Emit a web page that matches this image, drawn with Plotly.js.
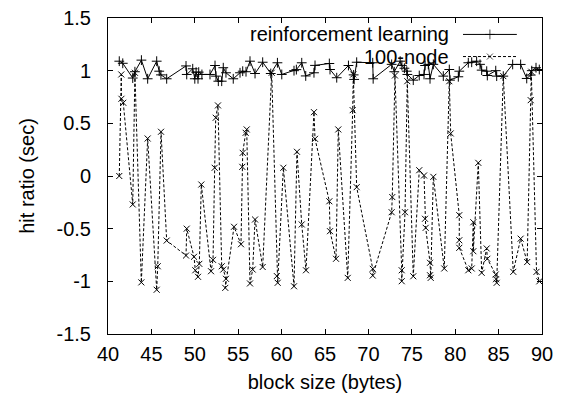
<!DOCTYPE html>
<html>
<head>
<meta charset="utf-8">
<script src="https://cdn.plot.ly/plotly-3.0.1.min.js"></script>
<style>html,body{margin:0;padding:0;background:#fff;}#chart{width:564px;height:399px;}</style>
</head>
<body>
<div id="chart"></div>
<script>
// ---- data ----
var rlX = [41.3,41.7,42.85,43.1,43.85,44.57,45.61,45.9,46.1,46.76,48.99,49.07,49.76,50.0,50.15,50.37,50.45,50.82,51.75,52.33,52.44,52.71,53.1,53.28,53.59,54.43,55.21,55.52,55.9,56.36,56.94,57.82,58.75,59.52,60.02,61.43,61.7,62.32,62.78,63.73,63.85,65.5,65.58,66.35,67.7,68.3,68.36,68.65,70.5,70.55,72.68,72.98,73.66,73.86,74.15,74.42,74.49,75.17,75.86,76.41,76.53,76.9,77.1,77.48,78.63,79.32,79.4,80.36,80.47,81.51,81.9,82.47,82.86,83.05,83.63,83.7,84.67,84.78,85.54,86.62,87.54,88.24,88.7,88.82,89.31,89.69];
var rlY = [1.09,1.07,0.93,0.99,1.10,0.923,1.09,0.995,0.96,0.923,1.045,0.964,1.018,0.923,0.986,0.923,0.986,0.964,0.964,1.049,0.948,0.90,0.90,1.028,0.98,0.923,0.98,0.995,0.99,1.09,0.973,1.08,0.973,1.075,0.964,1.0,1.01,1.075,0.95,0.98,1.05,1.068,1.011,0.933,1.049,0.96,0.917,1.08,1.075,0.923,1.06,0.99,1.09,1.05,1.023,0.995,0.964,0.91,0.954,0.964,1.049,1.06,0.923,1.06,0.948,1.011,0.91,0.942,0.995,1.075,1.08,1.09,1.06,1.005,0.995,0.954,1.0,0.948,0.948,1.059,1.059,0.926,0.958,1.0,1.028,1.011];

var nodeX = [41.3,41.53,41.55,41.76,42.85,43.1,43.84,44.57,45.61,45.73,46.11,46.76,48.99,49.07,49.91,50.06,50.37,50.52,50.75,51.87,52.1,52.29,52.41,52.67,53.1,53.28,53.59,53.51,54.52,55.32,55.47,55.52,55.86,55.98,56.36,56.67,56.94,57.82,58.86,59.45,59.55,60.2,61.43,61.77,62.32,62.81,63.73,63.85,65.5,65.58,66.27,66.53,67.62,68.19,68.26,68.65,70.5,70.5,72.68,72.75,73.06,73.84,73.84,74.22,74.48,75.17,75.86,76.41,76.52,76.6,77.1,77.1,77.18,77.48,78.74,79.32,79.48,80.47,80.47,80.47,81.51,81.9,82.09,82.09,82.66,83.05,83.63,83.7,84.67,84.7,84.78,85.54,86.69,87.54,88.29,88.7,88.77,89.37,89.69];
var nodeY = [0.0,0.964,0.733,0.695,-0.27,0.98,-1.01,0.356,-1.08,-0.857,0.42,-0.613,-0.755,-0.5,-0.767,-0.895,-0.957,-0.834,-0.081,-0.904,-0.796,0.078,0.553,0.67,-0.857,-0.888,-0.976,-1.062,-0.482,-0.648,0.087,0.22,0.41,0.442,-1.02,-0.888,-0.413,-0.864,0.98,-0.95,-1.014,0.078,-1.047,0.23,-0.46,-0.895,0.606,0.353,-0.24,-0.524,-0.786,0.442,-0.967,0.625,0.964,-0.106,-0.881,-0.945,-0.344,-0.2,0.954,-0.895,-0.999,-0.344,0.9,-0.952,0.055,0.005,-0.406,-0.492,-0.824,-0.942,-0.967,-0.008,-0.878,0.9,0.404,-0.372,-0.61,-0.682,-0.895,-0.878,-0.439,-0.714,0.125,-0.919,-0.688,-0.786,-0.935,-0.98,-1.014,0.948,-0.91,-0.595,-0.817,0.72,0.99,-0.91,-1.0];

var seriesNames = ['reinforcement learning', '100-node'];
var xTickVals = [40,45,50,55,60,65,70,75,80,85,90];
var xTickText = ['40','45','50','55','60','65','70','75','80','85','90'];
var yTickVals = [-1.5,-1,-0.5,0,0.5,1,1.5];
var yTickText = ['-1.5','-1','-0.5','0','0.5','1','1.5'];

// ---- styling ----
var FONT = 'Liberation Sans, Arial, Helvetica, sans-serif';
var FS = 20;

var rlStyle = {
  mode: 'lines+markers',
  line: {color: '#000', width: 1},
  marker: {symbol: 'cross-thin', size: 7, color: '#000', line: {width: 1, color: '#000'}}
};
var nodeStyle = {
  mode: 'lines+markers',
  line: {color: '#000', width: 1, dash: '3px,2px'},
  marker: {symbol: 'x-thin', size: 6, color: '#000', line: {width: 1, color: '#000'}}
};

var traces = [
  Object.assign({x: rlX, y: rlY, name: seriesNames[0], type: 'scatter', showlegend: false}, rlStyle),
  Object.assign({x: nodeX, y: nodeY, name: seriesNames[1], type: 'scatter', showlegend: false}, nodeStyle),
  // legend keys (gnuplot style: text left, sample right), drawn on a hidden paper-like overlay axis
  Object.assign({x: [0.818, 0.88, 0.942], y: [0.948, 0.948, 0.948], xaxis: 'x2', yaxis: 'y2', showlegend: false, hoverinfo: 'skip'},
    {mode: 'lines+markers', line: rlStyle.line, marker: Object.assign({}, rlStyle.marker, {size: [0, 7, 0]})}),
  Object.assign({x: [0.818, 0.88, 0.942], y: [0.878, 0.878, 0.878], xaxis: 'x2', yaxis: 'y2', showlegend: false, hoverinfo: 'skip'},
    {mode: 'lines+markers', line: nodeStyle.line, marker: Object.assign({}, nodeStyle.marker, {size: [0, 6, 0]})})
];

var axisCommon = {
  showline: true, linecolor: '#000', linewidth: 1, mirror: 'allticks',
  ticks: 'inside', ticklen: 5, tickwidth: 1, tickcolor: '#000',
  showgrid: false, zeroline: false, tickmode: 'array',
  tickfont: {family: FONT, size: FS, color: '#000'}
};

var layout = {
  width: 564, height: 399,
  margin: {l: 108, r: 22, t: 18, b: 65},
  paper_bgcolor: '#fff', plot_bgcolor: '#fff',
  font: {family: FONT, size: FS, color: '#000'},
  xaxis: Object.assign({}, axisCommon, {
    range: [40, 90], tickvals: xTickVals, ticktext: xTickText, ticklabelstandoff: 2,
    title: {text: 'block size (bytes)', font: {family: FONT, size: FS}, standoff: 10}
  }),
  yaxis: Object.assign({}, axisCommon, {
    range: [-1.5, 1.5], tickvals: yTickVals, ticktext: yTickText, ticklabelstandoff: 12,
    title: {text: 'hit ratio (sec)', font: {family: FONT, size: FS}, standoff: 16}
  }),
  xaxis2: {overlaying: 'x', range: [0, 1], visible: false, fixedrange: true},
  yaxis2: {overlaying: 'y', range: [0, 1], visible: false, fixedrange: true},
  annotations: [
    {xref: 'paper', yref: 'paper', x: 0.790, y: 0.948, xanchor: 'right', yanchor: 'middle',
     text: seriesNames[0], showarrow: false, font: {family: FONT, size: FS, color: '#000'}},
    {xref: 'paper', yref: 'paper', x: 0.790, y: 0.878, xanchor: 'right', yanchor: 'middle',
     text: seriesNames[1], showarrow: false, font: {family: FONT, size: FS, color: '#000'}}
  ],
  showlegend: false
};

Plotly.newPlot('chart', traces, layout, {staticPlot: true, displayModeBar: false});
</script>
</body>
</html>
